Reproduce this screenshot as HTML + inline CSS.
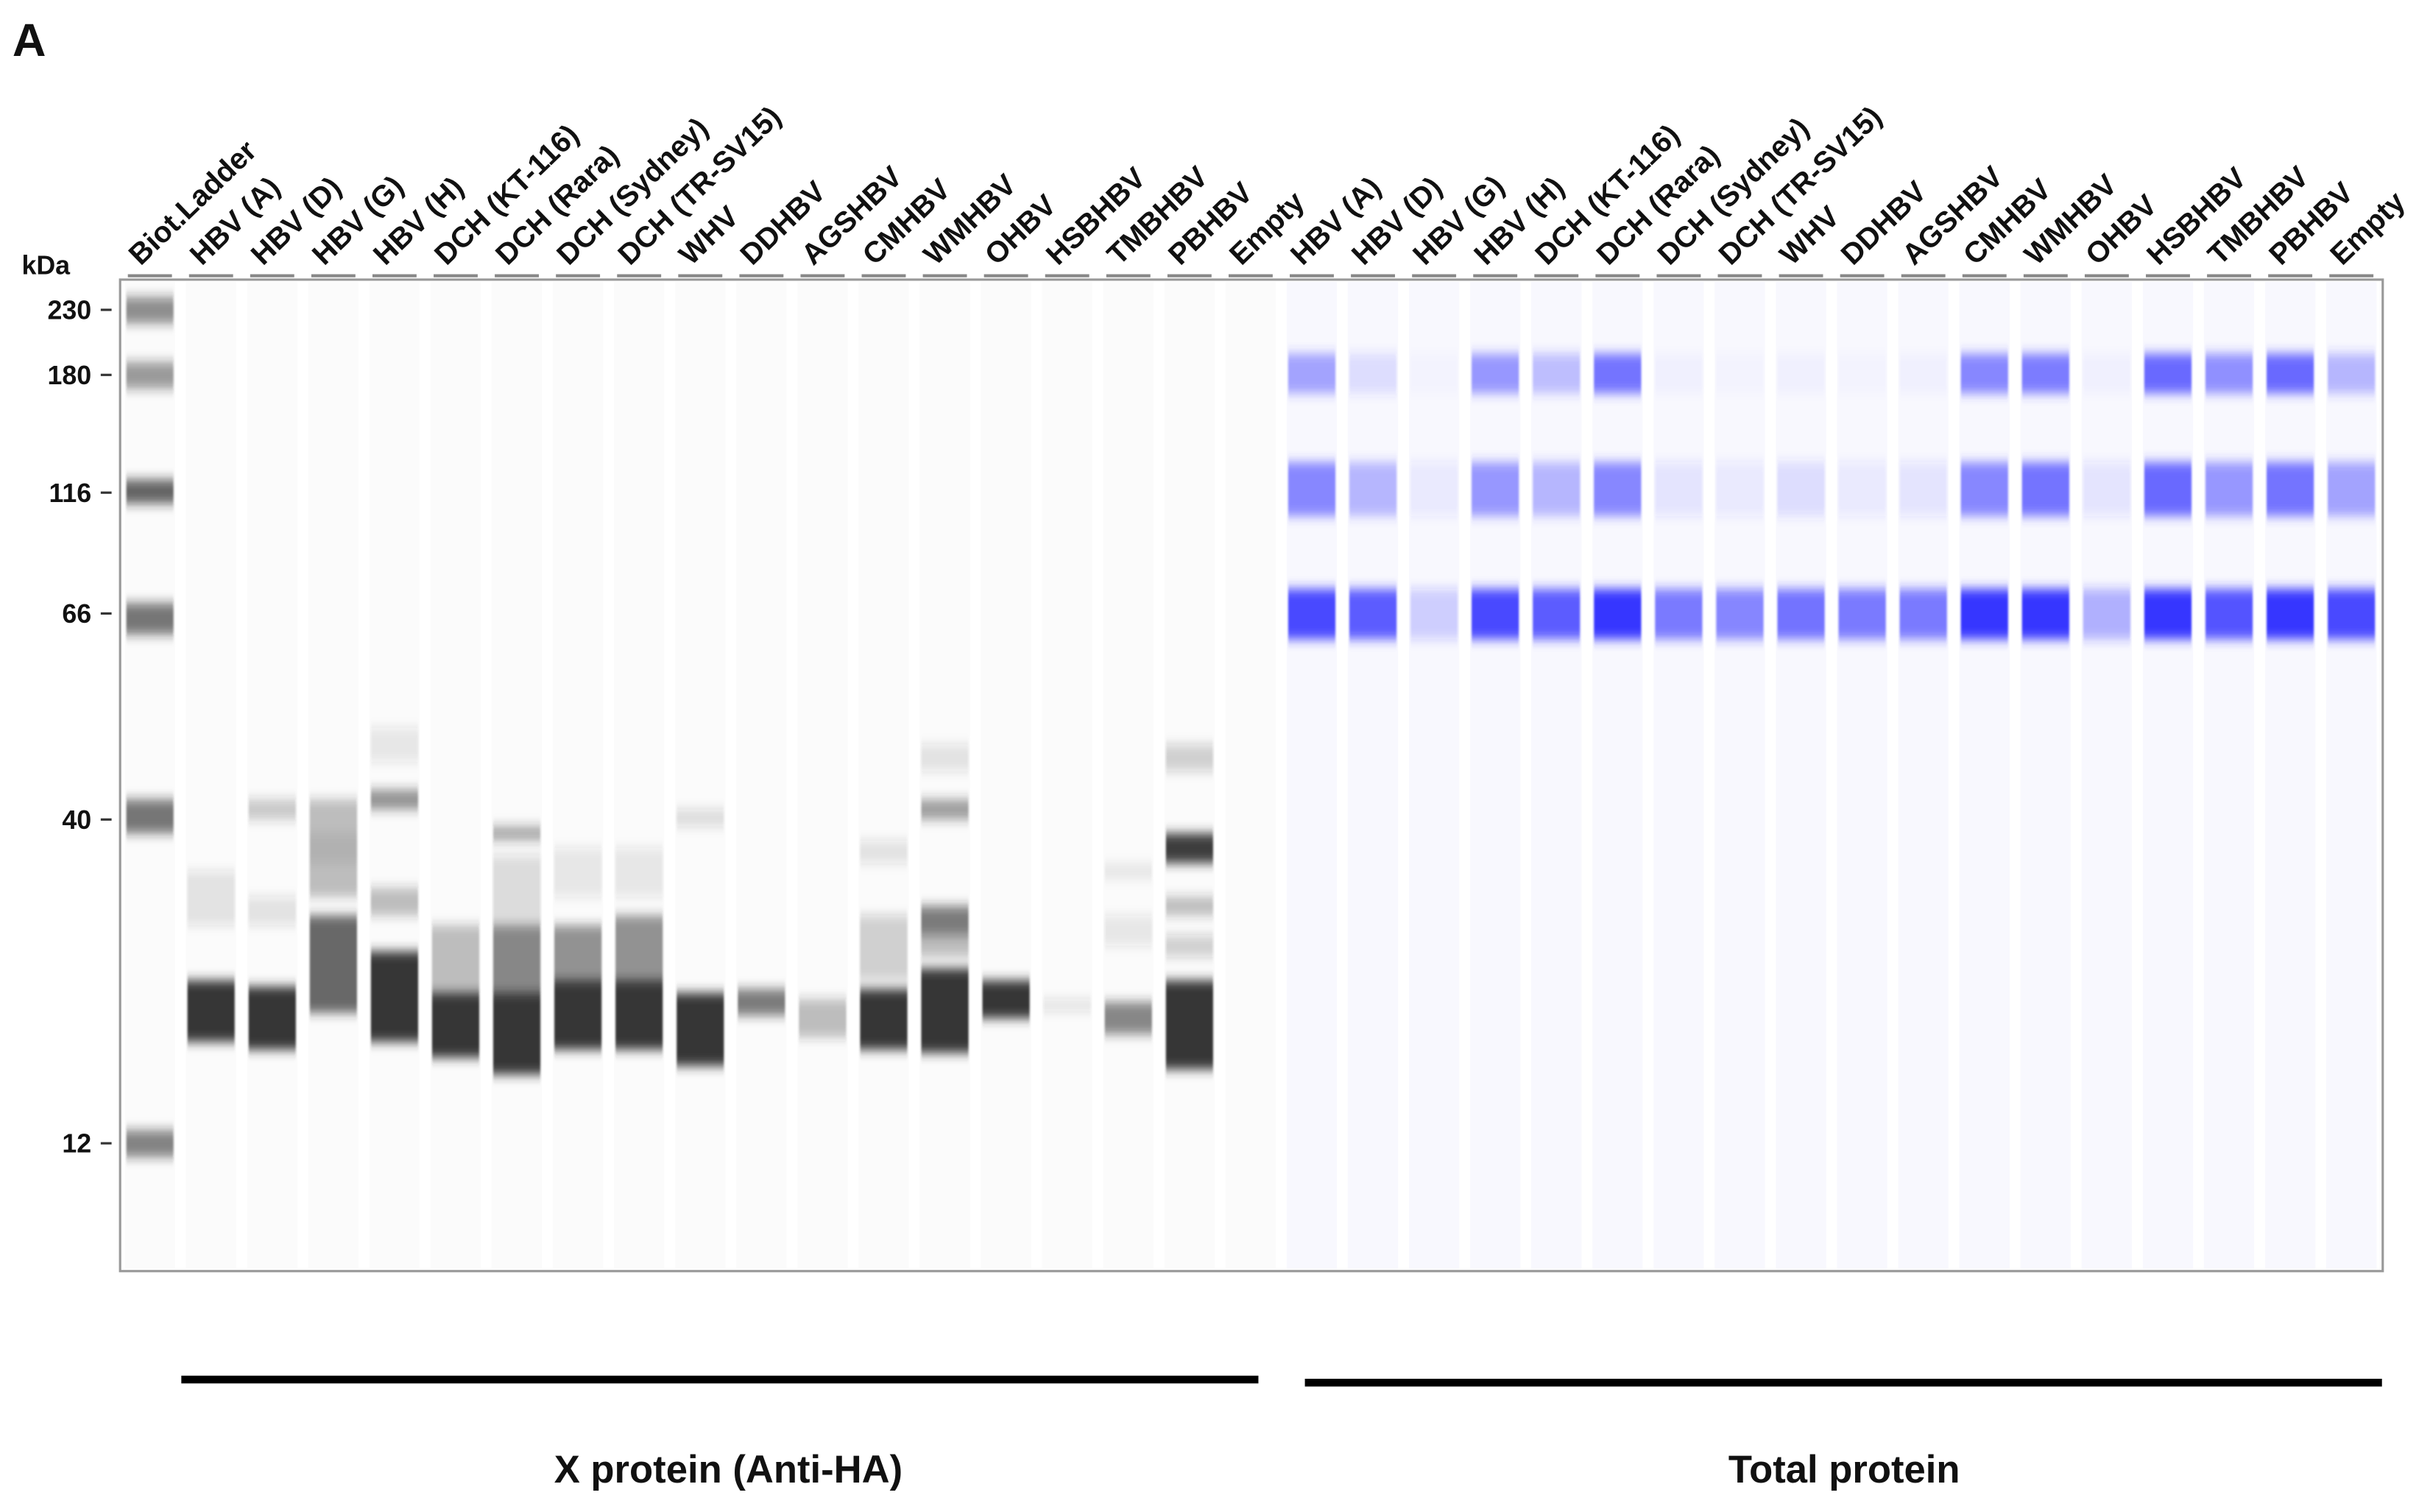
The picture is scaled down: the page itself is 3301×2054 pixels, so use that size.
<!DOCTYPE html>
<html><head><meta charset="utf-8"><style>
html,body{margin:0;padding:0;background:#fff;}
svg{display:block;}
text{font-family:"Liberation Sans",Arial,sans-serif;font-weight:bold;fill:#111;}
</style></head><body>
<svg id="gel" width="3301" height="2054" viewBox="0 0 1568 976" preserveAspectRatio="none" xmlns="http://www.w3.org/2000/svg">
<defs>
<filter id="blur" x="-20%" y="-50%" width="140%" height="200%"><feGaussianBlur stdDeviation="0.6 3.5"/></filter>
</defs>
<text x="8" y="36" font-size="30">A</text>
<text x="14" y="177" font-size="17">kDa</text>
<rect x="77.5" y="180.5" width="1460" height="640" fill="#fff" stroke="#999" stroke-width="1.5"/>
<g id="lanes"></g>
<g id="bands" filter="url(#blur)"></g>
<g id="ticks"></g>
<g id="labels"></g>
<rect x="117" y="888" width="695" height="5" fill="#000"/>
<rect x="842" y="890" width="695" height="5" fill="#000"/>
<text x="470" y="957" font-size="25" text-anchor="middle">X protein (Anti-HA)</text>
<text x="1190" y="957" font-size="25" text-anchor="middle">Total protein</text>
</svg>
<script>
const laneNames = ["Biot.Ladder","HBV (A)","HBV (D)","HBV (G)","HBV (H)","DCH (KT-116)","DCH (Rara)","DCH (Sydney)","DCH (TR-SV15)","WHV","DDHBV","AGSHBV","CMHBV","WMHBV","OHBV","HSBHBV","TMBHBV","PBHBV","Empty","HBV (A)","HBV (D)","HBV (G)","HBV (H)","DCH (KT-116)","DCH (Rara)","DCH (Sydney)","DCH (TR-SV15)","WHV","DDHBV","AGSHBV","CMHBV","WMHBV","OHBV","HSBHBV","TMBHBV","PBHBV","Empty"];
const tickLabels = [230,180,116,66,40,12];
// ladder markers
const ladderBands = [230,180,116,66,40,12];
const ladderIntensity = [0.5,0.45,0.7,0.6,0.6,0.55];
// X-protein bands: lane, kDa top, kDa bottom, intensity (0-1)
const xBandLane = [1,1,2,2,2,3,3,3,4,4,4,4,5,5,6,6,6,6,7,7,7,8,8,8,9,9,10,11,12,12,12,13,13,13,13,13,14,15,16,16,16,17,17,17,17,17];
const xBandTop  = [22,33,21.5,42,30,28,38,42,24.5,43,31,50,21,27,21,27,39,35,22,27,36,22,28,36,21,41,21.3,20.5,21.3,28,37,23,29,42,48,26,22,20.5,20.3,28,34,22,38,30,48,26];
const xBandBot  = [17.5,27,17,40,27,19.5,34,30,17.5,41,28,46,16.5,21,15.5,21,37,27,17,22,30,17,22,30,16,39,19.3,17.8,17,22,34,16.8,26,40,45,24,19.1,19.6,18,25,32,15.8,34,28,45,24];
const xBandInt  = [0.95,0.12,0.95,0.25,0.12,0.7,0.08,0.3,0.95,0.5,0.3,0.1,0.95,0.3,0.95,0.55,0.4,0.15,0.95,0.5,0.1,0.95,0.5,0.1,0.95,0.15,0.6,0.3,0.95,0.2,0.12,0.95,0.6,0.45,0.12,0.3,0.95,0.12,0.55,0.1,0.08,0.95,0.9,0.3,0.2,0.2];
// Total protein lanes 19..36: intensity at ~180, ~116, ~66 kDa
const tp180 = [0.45,0.15,0.02,0.5,0.3,0.7,0.03,0.02,0.03,0.02,0.03,0.6,0.65,0.03,0.75,0.55,0.75,0.35];
const tp116 = [0.6,0.35,0.08,0.5,0.35,0.6,0.1,0.08,0.15,0.08,0.1,0.6,0.7,0.1,0.75,0.5,0.7,0.45];
const tp66  = [0.85,0.75,0.2,0.85,0.75,0.95,0.6,0.55,0.65,0.6,0.6,0.95,0.95,0.35,0.95,0.8,0.95,0.85];

const NS="http://www.w3.org/2000/svg";
const X0=77, W=1460, N=laneNames.length, P=W/N;
const tickY=[200,242,318,396,529,738];
function laneX(i){return X0+P*i+P/2;}
function yOf(k){
  const lk=Math.log(k);
  if(k>=tickLabels[0]){const s=(tickY[1]-tickY[0])/(Math.log(tickLabels[1])-Math.log(tickLabels[0]));return tickY[0]+(lk-Math.log(tickLabels[0]))*s;}
  for(let j=0;j<tickLabels.length-1;j++){
    const a=Math.log(tickLabels[j]),b=Math.log(tickLabels[j+1]);
    if(lk<=a&&lk>=b)return tickY[j]+(a-lk)/(a-b)*(tickY[j+1]-tickY[j]);
  }
  const n=tickLabels.length;const a=Math.log(tickLabels[n-2]),b=Math.log(tickLabels[n-1]);
  return tickY[n-1]+(b-lk)/(a-b)*(tickY[n-1]-tickY[n-2]);
}
function mk(tag,attrs,parent){const e=document.createElementNS(NS,tag);for(const k in attrs)e.setAttribute(k,attrs[k]);parent.appendChild(e);return e;}
const lanesG=document.getElementById('lanes'),bandsG=document.getElementById('bands'),ticksG=document.getElementById('ticks'),labelsG=document.getElementById('labels');
const LW=P-7;
for(let i=0;i<N;i++){
  const r=mk('rect',{x:laneX(i)-LW/2,y:182,width:LW,height:637,fill:i>=19?'#f8f8fe':'#fbfbfb'},lanesG);
  
  
  const d=mk('rect',{x:laneX(i)-LW/2+2,y:177,width:LW-4,height:2,fill:'#888'},labelsG);
  
  
  const t=mk('text',{x:0,y:0,'font-size':19,transform:`translate(${laneX(i)-6},172) rotate(-44)`},labelsG);
  t.textContent=laneNames[i];
  
  
}
for(let j=0;j<tickLabels.length;j++){
  const y=yOf(tickLabels[j]);
  const t=mk('text',{x:59,y:y+6,'font-size':17,'text-anchor':'end'},ticksG);
  t.textContent=tickLabels[j];
  
  
  const l=mk('rect',{x:65,y:y-0.75,width:7,height:1.5,fill:'#333'},ticksG);
  
  
}
function band(lane,kTop,kBot,inten,color,name){
  const y1=yOf(kTop),y2=yOf(kBot);
  const r=mk('rect',{x:laneX(lane)-LW/2+1,y:y1,width:LW-2,height:Math.max(2,y2-y1),fill:color,'fill-opacity':inten},bandsG);
  
  
}
for(let j=0;j<ladderBands.length;j++){
  const k=ladderBands[j];
  band(0,k*1.05,k*0.95,ladderIntensity[j],'#222','ladder-band');
}
for(let j=0;j<xBandLane.length;j++){
  band(xBandLane[j],xBandTop[j],xBandBot[j],xBandInt[j],'#2a2a2a','x-protein-band');
}
for(let j=0;j<tp66.length;j++){
  const lane=19+j;
  band(lane,195,168,tp180[j],'#3a3aff','band-180');
  band(lane,130,104,tp116[j],'#3a3aff','band-116');
  band(lane,74,62,tp66[j],'#2a2aff','band-66');
}
</script>
</body></html>
